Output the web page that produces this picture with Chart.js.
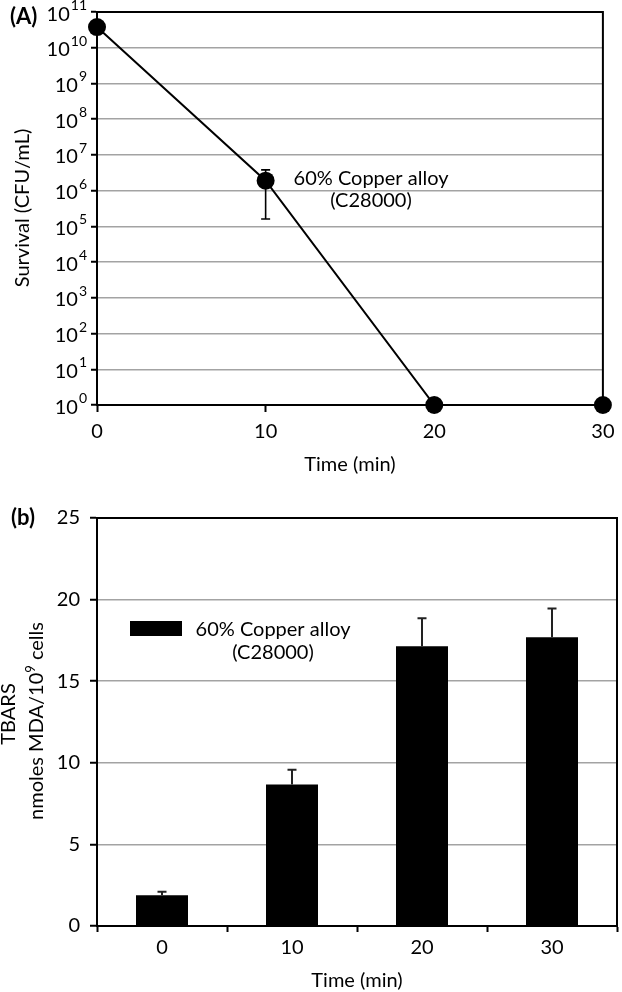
<!DOCTYPE html>
<html>
<head>
<meta charset="utf-8">
<title>Copper alloy: survival and TBARS</title>
<script src="https://cdn.jsdelivr.net/npm/chart.js@4.4.1/dist/chart.umd.min.js"></script>
<style>
  html, body { margin: 0; padding: 0; background: #fff; }
  canvas { display: block; }
</style>
</head>
<body>
<canvas id="panelA" width="622" height="480"></canvas>
<canvas id="panelB" width="622" height="512"></canvas>
<script>
  'use strict';

  // Panel A: survival over time (log scale).
  var TIME_MIN = [0, 10, 20, 30];
  var SURVIVAL = [3.8e10, 1.9e6, 1, 1];
  var SURVIVAL_ERR_HIGH = [null, 3.8e6, null, null];
  var SURVIVAL_ERR_LOW = [null, 1.6e5, null, null];
  var SURVIVAL_EXPONENTS = [0, 1, 2, 3, 4, 5, 6, 7, 8, 9, 10, 11];

  // Panel B: TBARS per time point.
  var TBARS_LABELS = ['0', '10', '20', '30'];
  var TBARS = [1.88, 8.67, 17.14, 17.69];
  var TBARS_ERR = [0.22, 0.90, 1.71, 1.77];

  var SERIES_LABEL = ['60% Copper alloy', '(C28000)'];

  var FONT = 'Lato, "Open Sans", sans-serif';
  var GRID_COLOR = '#a3a3a3';

  /**
   * Black top and right edge of the plot box.
   */
  function drawFrame(chart) {
    var a = chart.chartArea;
    var ctx = chart.ctx;
    ctx.save();
    ctx.strokeStyle = '#000';
    ctx.lineWidth = 2;
    ctx.beginPath();
    ctx.moveTo(a.left, a.top);
    ctx.lineTo(a.right, a.top);
    ctx.lineTo(a.right, a.bottom);
    ctx.stroke();
    ctx.restore();
  }

  /**
   * Text rotated a quarter turn, baseline at x, centred on y.
   * Parts are [text, size, raise].
   */
  function drawRotated(ctx, parts, x, y) {
    var total = 0;
    parts.forEach(function (p) {
      ctx.font = p[1] + 'px ' + FONT;
      total += ctx.measureText(p[0]).width;
    });
    ctx.save();
    ctx.translate(x, y);
    ctx.rotate(-Math.PI / 2);
    ctx.textBaseline = 'alphabetic';
    ctx.textAlign = 'left';
    var pos = -total / 2;
    parts.forEach(function (p) {
      ctx.font = p[1] + 'px ' + FONT;
      ctx.fillText(p[0], pos, -p[2]);
      pos += ctx.measureText(p[0]).width;
    });
    ctx.restore();
  }

  function drawCentered(ctx, text, x, y, font) {
    ctx.font = font;
    ctx.textAlign = 'center';
    ctx.textBaseline = 'alphabetic';
    ctx.fillText(text, x, y);
  }

  var panelAPlugin = {
    id: 'panelADecor',
    beforeDatasetsDraw: function (chart) {
      var ctx = chart.ctx;
      var xs = chart.scales.x;
      var ys = chart.scales.y;
      ctx.save();
      ctx.strokeStyle = '#000';
      ctx.lineWidth = 1.6;
      TIME_MIN.forEach(function (t, i) {
        if (SURVIVAL_ERR_HIGH[i] === null) {
          return;
        }
        var px = xs.getPixelForValue(t);
        var top = ys.getPixelForValue(SURVIVAL_ERR_HIGH[i]);
        var bot = ys.getPixelForValue(SURVIVAL_ERR_LOW[i]);
        ctx.beginPath();
        ctx.moveTo(px, top);
        ctx.lineTo(px, bot);
        ctx.moveTo(px - 4.5, top);
        ctx.lineTo(px + 4.5, top);
        ctx.moveTo(px - 4.5, bot);
        ctx.lineTo(px + 4.5, bot);
        ctx.stroke();
      });
      ctx.restore();
    },
    afterDraw: function (chart) {
      var ctx = chart.ctx;
      var a = chart.chartArea;
      var ys = chart.scales.y;
      drawFrame(chart);
      ctx.save();
      ctx.fillStyle = '#000';

      // Power-of-ten tick labels.
      ctx.textAlign = 'left';
      ctx.textBaseline = 'alphabetic';
      SURVIVAL_EXPONENTS.forEach(function (e) {
        var py = ys.getPixelForValue(Math.pow(10, e));
        ctx.font = '14px ' + FONT;
        var expW = ctx.measureText(String(e)).width;
        ctx.font = '20px ' + FONT;
        var baseW = ctx.measureText('10').width;
        var right = 87;
        ctx.fillText('10', right - expW - baseW - 1, py + 8.5);
        ctx.font = '14px ' + FONT;
        ctx.fillText(String(e), right - expW, py - 2);
      });

      drawRotated(ctx, [['Survival (CFU/mL)', 20, 0]], 29, 208);
      drawCentered(ctx, 'Time (min)', (a.left + a.right) / 2, 471, '20px ' + FONT);
      drawCentered(ctx, SERIES_LABEL[0], 371, 185, '20px ' + FONT);
      drawCentered(ctx, SERIES_LABEL[1], 371, 207, '20px ' + FONT);

      ctx.font = 'bold 22px ' + FONT;
      ctx.textAlign = 'left';
      ctx.fillText('(A)', 10, 24);
      ctx.restore();
    }
  };

  var panelBPlugin = {
    id: 'panelBDecor',
    afterDatasetsDraw: function (chart) {
      var ctx = chart.ctx;
      var xs = chart.scales.x;
      var ys = chart.scales.y;
      ctx.save();
      ctx.strokeStyle = '#222';
      ctx.lineWidth = 2;
      TBARS.forEach(function (v, i) {
        var px = xs.getPixelForValue(i);
        var top = ys.getPixelForValue(v + TBARS_ERR[i]);
        var bot = ys.getPixelForValue(v);
        ctx.beginPath();
        ctx.moveTo(px, bot);
        ctx.lineTo(px, top);
        ctx.moveTo(px - 4.5, top);
        ctx.lineTo(px + 4.5, top);
        ctx.stroke();
      });
      ctx.restore();
    },
    afterDraw: function (chart) {
      var ctx = chart.ctx;
      var a = chart.chartArea;
      drawFrame(chart);
      ctx.save();
      ctx.fillStyle = '#000';

      // Legend swatch and label.
      ctx.fillRect(130, 141, 52, 15);
      drawCentered(ctx, SERIES_LABEL[0], 273, 156, '20px ' + FONT);
      drawCentered(ctx, SERIES_LABEL[1], 273, 179, '20px ' + FONT);

      drawRotated(ctx, [['TBARS', 20, 0]], 15, 234);
      drawRotated(ctx, [['nmoles MDA/10', 20, 0], ['9', 13, 8], [' cells', 20, 0]], 43, 241);
      drawCentered(ctx, 'Time (min)', (a.left + a.right) / 2, 507, '20px ' + FONT);

      ctx.font = 'bold 22px ' + FONT;
      ctx.textAlign = 'left';
      ctx.fillText('(b)', 11, 45);
      ctx.restore();
    }
  };

  new Chart(document.getElementById('panelA'), {
    type: 'line',
    data: {
      datasets: [{
        label: SERIES_LABEL.join(' '),
        data: TIME_MIN.map(function (t, i) { return { x: t, y: SURVIVAL[i] }; }),
        borderColor: '#000',
        borderWidth: 2,
        backgroundColor: '#000',
        pointRadius: 9,
        pointBackgroundColor: '#000',
        pointBorderWidth: 0,
        tension: 0,
        clip: false
      }]
    },
    options: {
      responsive: false,
      devicePixelRatio: 1,
      animation: false,
      layout: { padding: { left: 0, right: 10, top: 12, bottom: 0 } },
      plugins: { legend: { display: false }, tooltip: { enabled: false } },
      scales: {
        x: {
          type: 'linear',
          min: 0,
          max: 30,
          afterFit: function (scale) { scale.height = 75; },
          ticks: { stepSize: 10, color: '#000', font: { family: FONT, size: 20 }, padding: 7.5, maxRotation: 0 },
          grid: { drawOnChartArea: false, drawTicks: true, tickLength: 7, tickColor: '#000', tickWidth: 2 },
          border: { color: '#000', width: 2 }
        },
        y: {
          type: 'logarithmic',
          min: 1,
          max: 1e11,
          afterFit: function (scale) { scale.width = 97; },
          afterBuildTicks: function (scale) {
            scale.ticks = SURVIVAL_EXPONENTS.map(function (e) { return { value: Math.pow(10, e) }; });
          },
          ticks: { callback: function () { return ''; } },
          grid: { color: GRID_COLOR, lineWidth: 1.5, tickLength: 6, tickColor: '#000', tickWidth: 2 },
          border: { color: '#000', width: 2 }
        }
      }
    },
    plugins: [panelAPlugin]
  });

  new Chart(document.getElementById('panelB'), {
    type: 'bar',
    data: {
      labels: TBARS_LABELS,
      datasets: [{
        label: SERIES_LABEL.join(' '),
        data: TBARS,
        backgroundColor: '#000',
        borderWidth: 0,
        barPercentage: 0.4,
        categoryPercentage: 1
      }]
    },
    options: {
      responsive: false,
      devicePixelRatio: 1,
      animation: false,
      layout: { padding: { left: 0, right: 5, top: 38, bottom: 0 } },
      plugins: { legend: { display: false }, tooltip: { enabled: false } },
      scales: {
        x: {
          afterFit: function (scale) { scale.height = 66; },
          ticks: { color: '#000', font: { family: FONT, size: 20 }, padding: 3.5, maxRotation: 0 },
          grid: { drawOnChartArea: false, drawTicks: true, tickLength: 6, tickColor: '#000', tickWidth: 2 },
          border: { color: '#000', width: 2 }
        },
        y: {
          min: 0,
          max: 25,
          afterFit: function (scale) { scale.width = 97; },
          ticks: { stepSize: 5, color: '#000', font: { family: FONT, size: 20 }, padding: 10 },
          grid: { color: GRID_COLOR, lineWidth: 1.5, tickLength: 7, tickColor: '#000', tickWidth: 2 },
          border: { color: '#000', width: 2 }
        }
      }
    },
    plugins: [panelBPlugin]
  });
</script>
</body>
</html>
